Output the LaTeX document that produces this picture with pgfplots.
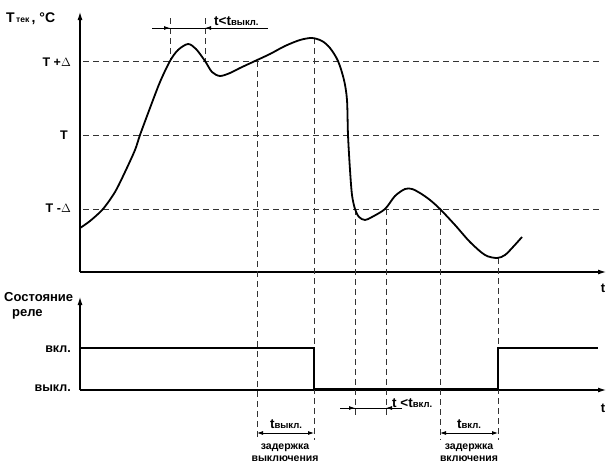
\documentclass[border=0pt]{standalone}
\usepackage{pgfplots}
\pgfplotsset{compat=1.18}
\usepackage{fontspec}
\setmainfont{Liberation Sans}
\usetikzlibrary{arrows.meta}
\begin{document}
\begin{tikzpicture}
\begin{axis}[width=606pt, height=463pt, scale only axis,
  xmin=0, xmax=606, ymin=0, ymax=463, y dir=reverse,
  hide axis, clip=false]
\pgfplotsset{every axis plot/.append style={}}
% axes
\draw[line width=1.1pt, -{Latex[length=8pt,width=5pt]}] (80,272) -- (80,12);
\draw[line width=1.1pt, -{Latex[length=8pt,width=5pt]}] (80,272) -- (606,272);
\draw[line width=1.1pt, -{Latex[length=8pt,width=5pt]}] (80,390) -- (80,297);
\draw[line width=1.1pt, -{Latex[length=8pt,width=5pt]}] (80,390) -- (606,390);
% levels
\addplot[black!80, line width=1pt, dash pattern=on 6pt off 4pt] coordinates {(83,61) (600,61)};
\addplot[black!80, line width=1pt, dash pattern=on 6pt off 4pt] coordinates {(83,135) (600,135)};
\addplot[black!80, line width=1pt, dash pattern=on 6pt off 4pt] coordinates {(83,209) (600,209)};
% vertical dashed
\addplot[black!80, line width=1pt, dash pattern=on 6pt off 4pt] coordinates {(170,18) (170,61)};
\addplot[black!80, line width=1pt, dash pattern=on 6pt off 4pt] coordinates {(205,18) (205,61)};
\addplot[black!80, line width=1pt, dash pattern=on 6pt off 4pt] coordinates {(257,61) (257,440)};
\addplot[black!80, line width=1pt, dash pattern=on 6pt off 4pt] coordinates {(314,38) (314,440)};
\addplot[black!80, line width=1pt, dash pattern=on 6pt off 4pt] coordinates {(355,209) (355,415)};
\addplot[black!80, line width=1pt, dash pattern=on 6pt off 4pt] coordinates {(386,209) (386,415)};
\addplot[black!80, line width=1pt, dash pattern=on 6pt off 4pt] coordinates {(440,209) (440,440)};
\addplot[black!80, line width=1pt, dash pattern=on 6pt off 4pt] coordinates {(498,258) (498,440)};
% temperature curve
\addplot[black, line width=1.8pt, smooth, tension=0.5] coordinates {
(80,228) (90,221) (103,209) (115,192) (125,172) (135,150) (140,135) (150,108)
(160,82) (170,61) (178,50) (188,44) (196,49) (205,61) (212,72) (220,76)
(230,73) (240,68) (255,61) (270,54) (285,46) (300,40) (312,38) (322,41)
(330,48) (338,61) (344,80) (347,100) (348,135) (350,170) (352,195) (355,209)
(359,217) (365,220) (372,217) (385,209) (395,196) (405,189) (412,189)
(420,193) (430,200) (440,209) (455,225) (470,242) (485,255) (497,258)
(505,255) (513,247) (522,237)};
% relay state
\addplot[black, line width=2.2pt] coordinates {(80,348) (314,348) (314,389) (498,389) (498,348) (598,348)};
% dimension arrows
\draw[line width=0.8pt] (152,28) -- (268,28);
\draw[line width=0.8pt, -{Latex[length=6pt,width=4pt]}] (152,28) -- (170,28);
\draw[line width=0.8pt, -{Latex[length=6pt,width=4pt]}] (222,28) -- (205,28);
\draw[line width=0.8pt] (340,408) -- (402,408);
\draw[line width=0.8pt, -{Latex[length=6pt,width=4pt]}] (340,408) -- (355,408);
\draw[line width=0.8pt, -{Latex[length=6pt,width=4pt]}] (402,408) -- (386,408);
\draw[line width=0.8pt, {Latex[length=6pt,width=4pt]}-{Latex[length=6pt,width=4pt]}] (257,433) -- (314,433);
\draw[line width=0.8pt, {Latex[length=6pt,width=4pt]}-{Latex[length=6pt,width=4pt]}] (440,433) -- (498,433);
% labels
\node[anchor=base west, inner sep=0pt, font=\bfseries\fontsize{14}{16}\selectfont] at (6,22) {T{\fontsize{8.5}{9}\selectfont\,тек}\,, °C};
\node[anchor=east, inner sep=0pt, font=\bfseries\fontsize{12.5}{14}\selectfont] at (71,62) {T +$\Delta$};
\node[anchor=east, inner sep=0pt, font=\bfseries\fontsize{12.5}{14}\selectfont] at (68,135) {T};
\node[anchor=east, inner sep=0pt, font=\bfseries\fontsize{12.5}{14}\selectfont] at (71,208) {T -$\Delta$};
\node[anchor=west, inner sep=0pt, font=\bfseries\fontsize{13}{15}\selectfont] at (4,297) {Состояние};
\node[anchor=west, inner sep=0pt, font=\bfseries\fontsize{13}{15}\selectfont] at (12,314) {реле};
\node[anchor=east, inner sep=0pt, font=\bfseries\fontsize{12.5}{14}\selectfont] at (71,349) {вкл.};
\node[anchor=east, inner sep=0pt, font=\bfseries\fontsize{12.5}{14}\selectfont] at (71,388) {выкл.};
\node[inner sep=0pt, font=\bfseries\fontsize{13}{15}\selectfont] at (603,288) {t};
\node[inner sep=0pt, font=\bfseries\fontsize{13}{15}\selectfont] at (603,408) {t};
\node[anchor=base west, inner sep=0pt, font=\bfseries\fontsize{13.5}{15}\selectfont] at (214,25) {t<t{\fontsize{9.5}{10}\selectfont выкл.}};
\node[anchor=base west, inner sep=0pt, font=\bfseries\fontsize{13.5}{15}\selectfont] at (392,407) {t <t{\fontsize{9.5}{10}\selectfont вкл.}};
\node[anchor=base, inner sep=0pt, font=\bfseries\fontsize{13.5}{15}\selectfont] at (286,428) {t{\fontsize{9.5}{10}\selectfont выкл.}};
\node[anchor=base, inner sep=0pt, font=\bfseries\fontsize{13.5}{15}\selectfont] at (469,428) {t{\fontsize{9.5}{10}\selectfont вкл.}};
\node[inner sep=0pt, font=\bfseries\fontsize{10.5}{11}\selectfont] at (285,448) {задержка};
\node[inner sep=0pt, font=\bfseries\fontsize{10.5}{11}\selectfont] at (285,459) {выключения};
\node[inner sep=0pt, font=\bfseries\fontsize{10.5}{11}\selectfont] at (469,448) {задержка};
\node[inner sep=0pt, font=\bfseries\fontsize{10.5}{11}\selectfont] at (469,459) {включения};
\end{axis}
\pgfresetboundingbox
\path (current axis.south west) rectangle (current axis.north east);
\end{tikzpicture}
\end{document}
